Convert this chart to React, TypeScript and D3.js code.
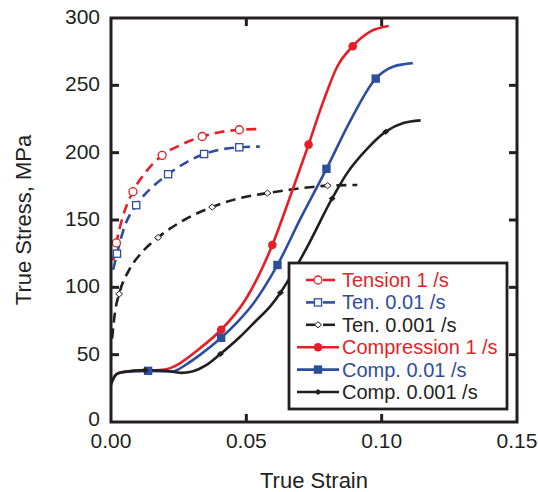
import React from "react";
import * as d3 from "d3";

type P = [number, number];

// ---- data (strain, stress MPa) ----
const tension1: P[] = [[0.0008, 120], [0.002, 133], [0.004, 150], [0.0081, 171], [0.013, 186], [0.0189, 198], [0.026, 206], [0.0337, 212], [0.041, 215.5], [0.0474, 217], [0.054, 217.5]];
const tension1Markers: P[] = [[0.002, 133], [0.0081, 171], [0.0189, 198], [0.0337, 212], [0.0474, 217]];

const tension001: P[] = [[0.0008, 113], [0.0022, 125], [0.005, 145], [0.0093, 161], [0.015, 174], [0.0211, 184], [0.028, 193], [0.0344, 199], [0.041, 202.5], [0.0474, 204], [0.055, 204.5]];
const tension001Markers: P[] = [[0.0022, 125], [0.0093, 161], [0.0211, 184], [0.0344, 199], [0.0474, 204]];

const tension0001: P[] = [[0.0004, 62], [0.0015, 82], [0.003, 95], [0.007, 114], [0.011, 125], [0.0174, 137], [0.027, 150], [0.0374, 159.6], [0.047, 166], [0.0578, 170], [0.068, 173], [0.08, 175.5], [0.091, 176]];
const tension0001Markers: P[] = [[0.003, 95], [0.0174, 137], [0.0374, 159.6], [0.0578, 170], [0.08, 175.5]];

const comp1: P[] = [[0, 28], [0.0008, 32], [0.002, 35.5], [0.004, 37], [0.012, 38], [0.018, 38.5], [0.0219, 40], [0.033, 55], [0.0407, 68.5], [0.0496, 90.6], [0.0596, 131.4], [0.0663, 168], [0.073, 206], [0.0786, 239], [0.0836, 264], [0.0893, 279], [0.0959, 290], [0.1026, 294]];
const comp1Markers: P[] = [[0.0407, 68.5], [0.0596, 131.4], [0.073, 206], [0.0893, 279]];

const comp001: P[] = [[0, 28], [0.0008, 32], [0.002, 35.5], [0.004, 37], [0.0137, 38], [0.0225, 37.5], [0.028, 43], [0.033, 50], [0.0407, 62.5], [0.0466, 74], [0.0526, 88], [0.0615, 116.6], [0.07, 151], [0.0796, 188], [0.0885, 224], [0.0978, 255], [0.1044, 264], [0.1115, 266.5]];
const comp001Markers: P[] = [[0.0137, 38], [0.0407, 62.5], [0.0615, 116.6], [0.0796, 188], [0.0978, 255]];

const comp0001: P[] = [[0, 28], [0.0008, 32], [0.002, 35.5], [0.004, 37], [0.0126, 38.5], [0.02, 38], [0.026, 36.5], [0.03, 37.5], [0.035, 42], [0.0404, 50.5], [0.047, 62], [0.0535, 75], [0.0589, 86], [0.0626, 96], [0.0675, 112], [0.0725, 130], [0.0817, 166], [0.0873, 185], [0.0947, 203], [0.1015, 215.6], [0.108, 222], [0.1144, 224]];
const comp0001Markers: P[] = [[0.0126, 38.5], [0.0404, 50.5], [0.0626, 96], [0.0817, 166], [0.1015, 215.6]];

const xTicks = [0, 0.05, 0.1, 0.15];
const yTicks = [0, 50, 100, 150, 200, 250, 300];

const RED = "#e41f26";
const BLUE = "#2d4d9f";
const BLACK = "#231f20";

type Marker = "openCircle" | "openSquare" | "openDiamond" | "circle" | "square" | "diamond";

const series = [
  { name: "Tension 1 /s", data: tension1, markers: tension1Markers, color: RED, dashed: true, marker: "openCircle" as Marker },
  { name: "Ten. 0.01 /s", data: tension001, markers: tension001Markers, color: BLUE, dashed: true, marker: "openSquare" as Marker },
  { name: "Ten. 0.001 /s", data: tension0001, markers: tension0001Markers, color: BLACK, dashed: true, marker: "openDiamond" as Marker },
  { name: "Compression 1 /s", data: comp1, markers: comp1Markers, color: RED, dashed: false, marker: "circle" as Marker },
  { name: "Comp. 0.01 /s", data: comp001, markers: comp001Markers, color: BLUE, dashed: false, marker: "square" as Marker },
  { name: "Comp. 0.001 /s", data: comp0001, markers: comp0001Markers, color: BLACK, dashed: false, marker: "diamond" as Marker },
];

const W = 538;
const H = 492;
const x = d3.scaleLinear().domain([0, 0.15]).range([111, 517]);
const y = d3.scaleLinear().domain([0, 300]).range([422, 18]);
const FONT = "Liberation Sans, Arial, Helvetica, sans-serif";

function MarkerShape({ type, cx, cy, color }: { type: Marker; cx: number; cy: number; color: string }) {
  switch (type) {
    case "openCircle":
      return <circle cx={cx} cy={cy} r={4} fill="white" stroke={color} strokeWidth={1.3} />;
    case "circle":
      return <circle cx={cx} cy={cy} r={4.3} fill={color} />;
    case "openSquare":
      return <rect x={cx - 3.6} y={cy - 3.6} width={7.2} height={7.2} fill="white" stroke={color} strokeWidth={1.3} />;
    case "square":
      return <rect x={cx - 4.2} y={cy - 4.2} width={8.4} height={8.4} fill={color} />;
    case "openDiamond":
      return <path d={`M${cx - 3.5},${cy} L${cx},${cy - 3} L${cx + 3.5},${cy} L${cx},${cy + 3} Z`} fill="white" stroke={color} strokeWidth={1} />;
    case "diamond":
      return <path d={`M${cx - 3.5},${cy} L${cx},${cy - 3} L${cx + 3.5},${cy} L${cx},${cy + 3} Z`} fill={color} />;
  }
}

export default function App() {
  const line = d3
    .line<P>()
    .x((d) => x(d[0]))
    .y((d) => y(d[1]))
    .curve(d3.curveMonotoneX);

  const tickLen = 8;
  const x0 = x(0), x1 = x(0.15), y0 = y(0), y1 = y(300);

  const legendRows = series.map((s, i) => ({ ...s, yy: 287 + i * 22.4 }));

  return (
    <svg width={W} height={H} style={{ position: "absolute", left: 0, top: 0, display: "block", background: "white" }} fontFamily={FONT}>
      <defs>
        <clipPath id="plot">
          <rect x={x0} y={y1} width={x1 - x0} height={y0 - y1} />
        </clipPath>
      </defs>

      {/* curves */}
      <g clipPath="url(#plot)">
        {series.map((s) => (
          <path key={s.name} d={line(s.data) || ""} fill="none" stroke={s.color} strokeWidth={2.6}
            strokeDasharray={s.dashed ? "10,6" : undefined} strokeLinecap="butt" strokeLinejoin="round" />
        ))}
        {series.map((s) =>
          s.markers.map((m, j) => <MarkerShape key={s.name + j} type={s.marker} cx={x(m[0])} cy={y(m[1])} color={s.color} />)
        )}
      </g>

      {/* frame */}
      <rect x={x0} y={y1} width={x1 - x0} height={y0 - y1} fill="none" stroke={BLACK} strokeWidth={3} />

      {/* ticks */}
      {xTicks.slice(1, -1).map((t) => (
        <g key={"xt" + t}>
          <line x1={x(t)} x2={x(t)} y1={y0} y2={y0 - tickLen} stroke={BLACK} strokeWidth={3} />
          <line x1={x(t)} x2={x(t)} y1={y1} y2={y1 + tickLen} stroke={BLACK} strokeWidth={3} />
        </g>
      ))}
      {yTicks.slice(1, -1).map((t) => (
        <g key={"yt" + t}>
          <line x1={x0} x2={x0 + tickLen} y1={y(t)} y2={y(t)} stroke={BLACK} strokeWidth={3} />
          <line x1={x1} x2={x1 - tickLen} y1={y(t)} y2={y(t)} stroke={BLACK} strokeWidth={3} />
        </g>
      ))}

      {/* tick labels */}
      {xTicks.map((t) => (
        <text key={"xl" + t} x={x(t)} y={448} textAnchor="middle" fontSize={21} fill={BLACK}>
          {d3.format(".2f")(t)}
        </text>
      ))}
      {yTicks.map((t) => (
        <text key={"yl" + t} x={100} y={y(t) + (t === 0 ? 4 : 6)} textAnchor="end" fontSize={21} fill={BLACK}>
          {t}
        </text>
      ))}

      {/* axis titles */}
      <text x={314} y={488} textAnchor="middle" fontSize={22} fill={BLACK}>True Strain</text>
      <text transform={`translate(31, 220) rotate(-90)`} textAnchor="middle" fontSize={22} fill={BLACK}>True Stress, MPa</text>

      {/* legend */}
      <rect x={289} y={263} width={218} height={146} fill="white" stroke={BLACK} strokeWidth={2.8} />
      {legendRows.map((s) => (
        <g key={"lg" + s.name}>
          {s.dashed ? (
            <>
              <line x1={306} x2={315} y1={s.yy - 7} y2={s.yy - 7} stroke={s.color} strokeWidth={2.6} />
              <line x1={323} x2={335} y1={s.yy - 7} y2={s.yy - 7} stroke={s.color} strokeWidth={2.6} />
            </>
          ) : (
            <line x1={297} x2={339} y1={s.yy - 7} y2={s.yy - 7} stroke={s.color} strokeWidth={2.6} />
          )}
          <MarkerShape type={s.marker} cx={318} cy={s.yy - 7} color={s.color} />
          <text x={342} y={s.yy} fontSize={20} fill={s.color}>{s.name}</text>
        </g>
      ))}
    </svg>
  );
}
